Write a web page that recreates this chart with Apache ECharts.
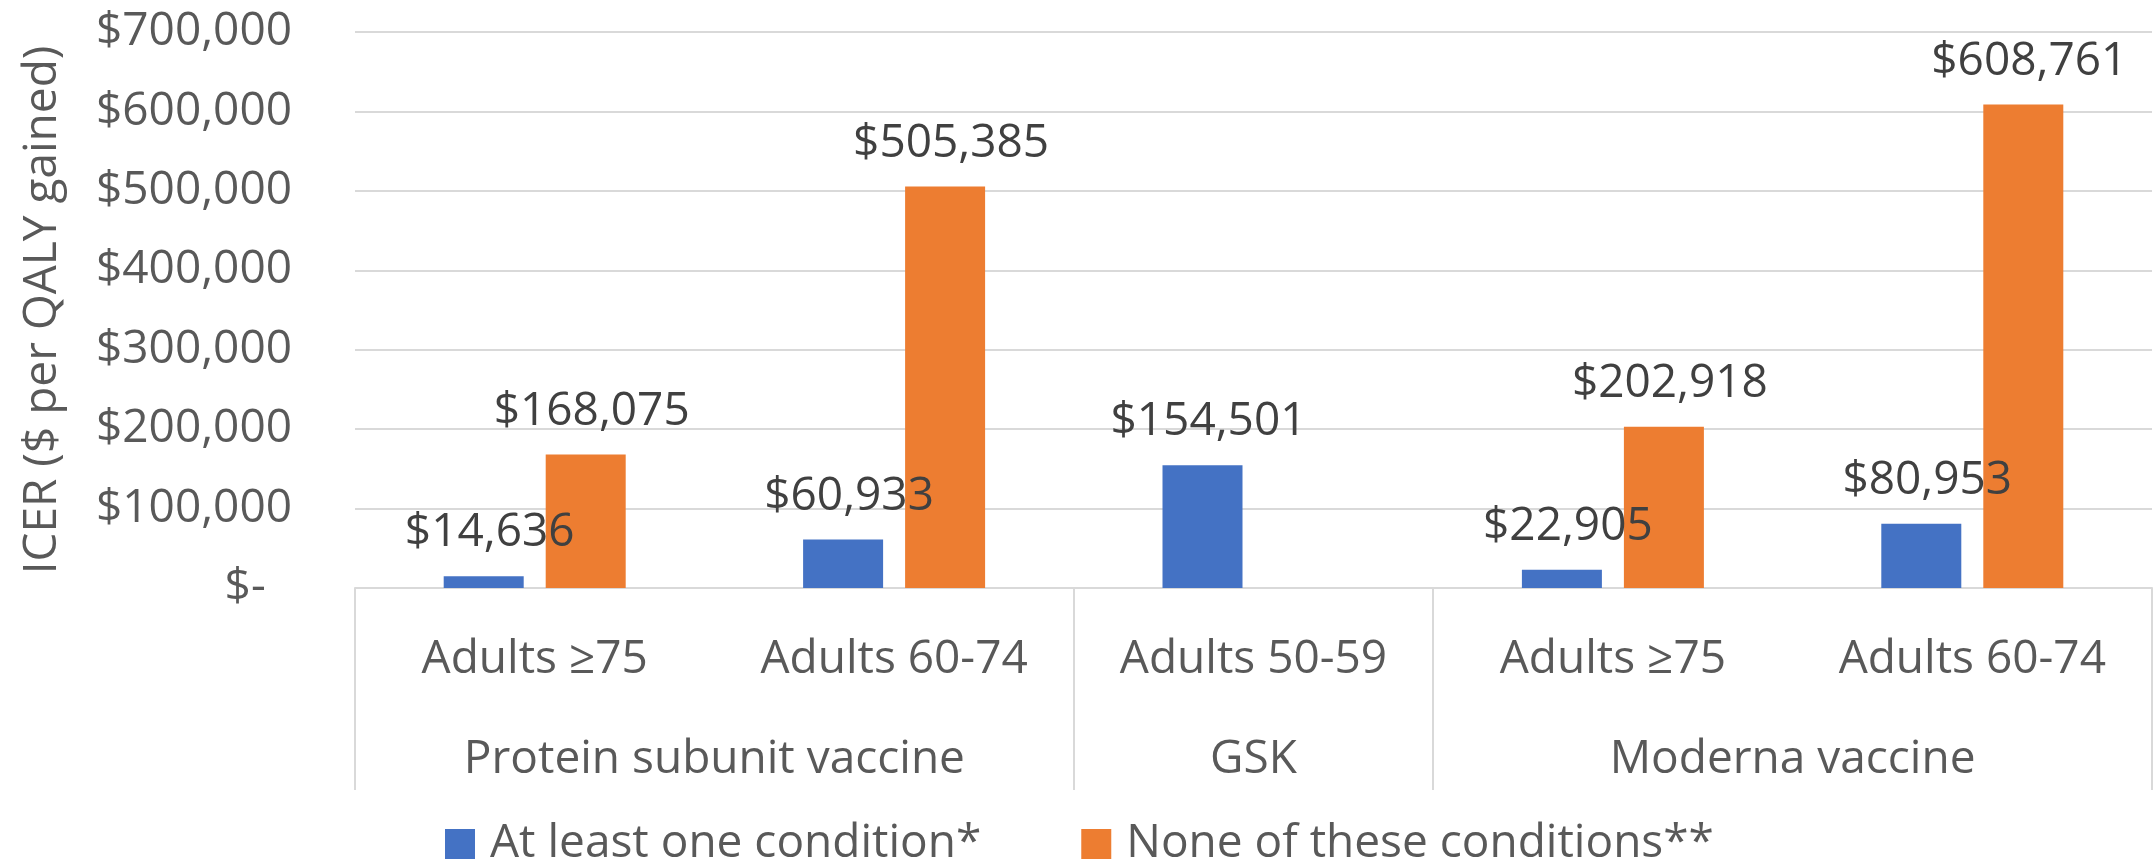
<!DOCTYPE html>
<html>
<head>
<meta charset="utf-8">
<script src="https://cdn.jsdelivr.net/npm/echarts@6/dist/echarts.min.js"></script>
<style>
  html, body { margin: 0; padding: 0; background: #ffffff; }
  #chart { width: 2153px; height: 863px; }
</style>
</head>
<body>
<div id="chart"></div>
<script>
// ---- data ----
const categories = ['Adults ≥75', 'Adults 60-74', 'Adults 50-59', 'Adults ≥75', 'Adults 60-74'];
const groupNames = ['Protein subunit vaccine', 'GSK', 'Moderna vaccine'];
const groupSizes = [2, 1, 2];
const seriesNames = ['At least one condition*', 'None of these conditions**'];
const atLeastOne = [14636, 60933, 154501, 22905, 80953];
const noneOf = [168075, 505385, null, 202918, 608761];
const yTicks = [0, 100000, 200000, 300000, 400000, 500000, 600000, 700000];
const yAxisTitle = 'ICER ($ per QALY gained)';

// ---- derived ----
const groupBounds = [0];
const groupCenters = [];
groupSizes.forEach(function (s, i) {
  const start = groupBounds[groupBounds.length - 1];
  groupCenters.push(start + s / 2);
  groupBounds.push(start + s);
});
const FONT = 'Open Sans';
function money(v) {
  return '$' + Math.round(v).toString().replace(/\B(?=(\d{3})+(?!\d))/g, ',');
}

const chart = echarts.init(document.getElementById('chart'), null, { renderer: 'canvas' });
chart.setOption({
  animation: false,
  backgroundColor: '#ffffff',
  textStyle: { fontFamily: FONT },
  grid: { left: 355, right: 1, top: 32, bottom: 275, containLabel: false },
  legend: {
    left: 445,
    top: 821,
    padding: 0,
    itemWidth: 30,
    itemHeight: 30,
    itemGap: 100,
    icon: 'rect',
    textStyle: { fontFamily: FONT, fontSize: 46, color: '#595959', padding: [0, 0, 0, 10] },
    data: seriesNames
  },
  xAxis: [
    {
      type: 'category',
      position: 'bottom',
      data: categories,
      axisLine: { show: true, lineStyle: { color: '#d9d9d9', width: 2 } },
      axisTick: { show: false },
      axisLabel: { interval: 0, margin: 49, fontFamily: FONT, fontSize: 46, color: '#595959' },
      splitLine: { show: false }
    },
    {
      type: 'value',
      position: 'bottom',
      min: 0,
      max: groupBounds[groupBounds.length - 1],
      axisLine: { show: false },
      splitLine: { show: false },
      axisTick: {
        show: true,
        customValues: groupBounds,
        length: 202,
        lineStyle: { color: '#d9d9d9', width: 2 }
      },
      axisLabel: {
        customValues: groupCenters,
        margin: 149,
        fontFamily: FONT,
        fontSize: 46,
        color: '#595959',
        formatter: function (v) {
          const i = groupCenters.indexOf(v);
          return i >= 0 ? groupNames[i] : '';
        }
      }
    }
  ],
  yAxis: {
    type: 'value',
    min: yTicks[0],
    max: yTicks[yTicks.length - 1],
    interval: yTicks[1] - yTicks[0],
    name: yAxisTitle,
    nameLocation: 'middle',
    nameGap: 289,
    nameTextStyle: { fontFamily: FONT, fontSize: 46, color: '#595959' },
    axisLine: { show: false },
    axisTick: { show: false },
    splitLine: { show: true, lineStyle: { color: '#d9d9d9', width: 2 } },
    axisLabel: {
      margin: 63,
      fontFamily: FONT,
      fontSize: 46,
      color: '#595959',
      formatter: function (v) {
        if (v === 0) return '{a|$-}{h|0}';
        return money(v);
      },
      rich: {
        a: { fontFamily: FONT, fontSize: 46, color: '#595959' },
        h: { fontFamily: FONT, fontSize: 46, color: 'rgba(0,0,0,0)' }
      }
    }
  },
  series: [
    {
      name: seriesNames[0],
      type: 'bar',
      xAxisIndex: 0,
      data: atLeastOne,
      barWidth: 80,
      barGap: '27.5%',
      itemStyle: { color: '#4472c4' },
      label: {
        show: true, position: 'top', distance: 20, offset: [6, 0],
        fontFamily: FONT, fontSize: 46, color: '#404040',
        formatter: function (p) { return money(p.value); }
      }
    },
    {
      name: seriesNames[1],
      type: 'bar',
      xAxisIndex: 0,
      data: noneOf,
      barWidth: 80,
      barGap: '27.5%',
      itemStyle: { color: '#ed7d31' },
      label: {
        show: true, position: 'top', distance: 20, offset: [6, 0],
        fontFamily: FONT, fontSize: 46, color: '#404040',
        formatter: function (p) { return money(p.value); }
      }
    }
  ]
});
</script>
</body>
</html>
